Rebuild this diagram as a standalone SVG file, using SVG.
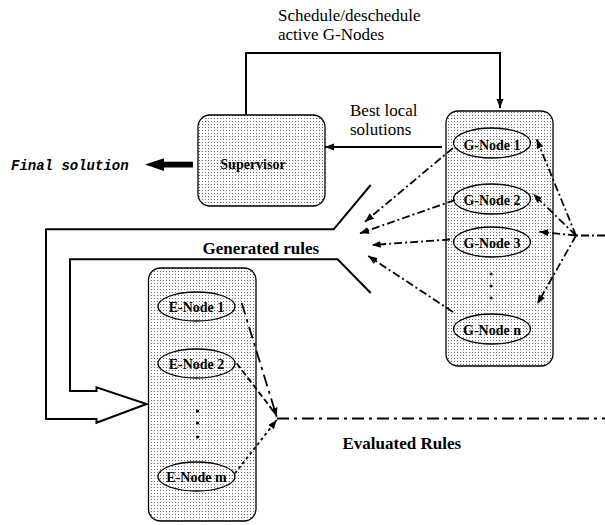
<svg xmlns="http://www.w3.org/2000/svg" width="605" height="525" viewBox="0 0 605 525">
<style>
.box{fill:url(#dots);stroke:#000;stroke-width:1.3}
.ell{fill:none;stroke:#000;stroke-width:1.3}
.lbl{font-family:"Liberation Serif","Times New Roman",serif;font-weight:bold;font-size:14px;fill:#000;text-anchor:middle}
.big{font-family:"Liberation Serif","Times New Roman",serif;font-size:17px;fill:#000}
.bigb{font-family:"Liberation Serif","Times New Roman",serif;font-size:17px;font-weight:bold;fill:#000}
.solid{fill:none;stroke:#000;stroke-width:2}
.dd{fill:none;stroke:#000;stroke-width:1.8;stroke-dasharray:8 3 2 3}
.dash{fill:none;stroke:#000;stroke-width:1.8;stroke-dasharray:6 3}
.dot{fill:none;stroke:#000;stroke-width:1.8;stroke-dasharray:3 3}
.long{fill:none;stroke:#000;stroke-width:1.8;stroke-dasharray:12 5 3 5}
</style>
<defs>
<pattern id="dots" width="3" height="3" patternUnits="userSpaceOnUse">
<rect width="3" height="3" fill="#fff"/>
<rect x="1" y="1" width="1" height="1" fill="#6a6a6a"/>
</pattern>
<marker id="ah" markerWidth="10" markerHeight="8" refX="9" refY="3.5" orient="auto" markerUnits="userSpaceOnUse">
<path d="M0,0 L9,3.5 L0,7 z" fill="#000"/>
</marker>
</defs>

<g id="supervisor">
<rect class="box" x="198" y="115" width="127" height="91" rx="12"/>
<text class="lbl" x="253" y="169">Supervisor</text>
</g>

<g id="gnodes">
<rect class="box" x="446" y="111" width="107" height="255" rx="12"/>
<g id="gnode1"><ellipse class="ell" cx="492" cy="143" rx="38.5" ry="15"/><text class="lbl" x="492" y="150">G-Node 1</text></g>
<g id="gnode2"><ellipse class="ell" cx="492" cy="199" rx="38.5" ry="15"/><text class="lbl" x="492" y="205">G-Node 2</text></g>
<g id="gnode3"><ellipse class="ell" cx="492" cy="242" rx="38.5" ry="15"/><text class="lbl" x="492" y="248">G-Node 3</text></g>
<g id="gdots"><circle cx="491" cy="274" r="1.6"/><circle cx="491" cy="286" r="1.6"/><circle cx="491" cy="298" r="1.6"/></g>
<g id="gnoden"><ellipse class="ell" cx="492" cy="329" rx="38.5" ry="15"/><text class="lbl" x="492" y="335">G-Node n</text></g>
</g>

<g id="enodes">
<rect class="box" x="148.5" y="268" width="107.5" height="253" rx="12"/>
<g id="enode1"><ellipse class="ell" cx="196.5" cy="306.5" rx="38.5" ry="14.5"/><text class="lbl" x="196.5" y="312">E-Node 1</text></g>
<g id="enode2"><ellipse class="ell" cx="196.5" cy="363.5" rx="38.5" ry="14.5"/><text class="lbl" x="196.5" y="369">E-Node 2</text></g>
<g id="edots"><circle cx="197.5" cy="411" r="1.6"/><circle cx="197.5" cy="423" r="1.6"/><circle cx="197.5" cy="437" r="1.6"/></g>
<g id="enodem"><ellipse class="ell" cx="196.5" cy="476.5" rx="38.5" ry="14.5"/><text class="lbl" x="196.5" y="482">E-Node m</text></g>
</g>

<g id="labels">
<text class="big" x="278" y="21">Schedule/deschedule</text>
<text class="big" x="278" y="40">active G-Nodes</text>
<text class="big" x="350" y="116">Best local</text>
<text class="big" x="350" y="135">solutions</text>
<text x="11" y="170" style="font-family:'Liberation Mono','Courier New',monospace;font-size:14px;font-weight:bold;font-style:italic">Final solution</text>
<text class="bigb" x="202.5" y="254">Generated rules</text>
<text class="bigb" x="342.5" y="449">Evaluated Rules</text>
</g>

<g id="connectors">
<path class="solid" d="M246,115 V53 H500 V108" marker-end="url(#ah)"/>
<path class="solid" d="M442,147 H325" marker-end="url(#ah)"/>
<g id="final-arrow">
<rect x="163" y="161.7" width="30" height="5.8" fill="#000"/>
<path d="M145,164.6 L164,158.3 L164,171 z" fill="#000"/>
</g>
<path class="solid" d="M370.7,185 L333.7,229.3 H46 V419 H96.5 V422.7 L146.6,404 L96.5,387.3 V391 H70 V259.3 H337.6 L370.7,293"/>
<path class="dd" d="M453,148 L365,221.7" marker-end="url(#ah)"/>
<path class="dd" d="M455,200 L360,233.3" marker-end="url(#ah)"/>
<path class="dd" d="M450,239.5 L371.7,245" marker-end="url(#ah)"/>
<path class="dd" d="M453,312 L368.3,256" marker-end="url(#ah)"/>
<path class="dd" d="M605,235.5 H576"/>
<path class="dd" d="M576,235.5 L536.7,139.3" marker-end="url(#ah)"/>
<path class="dd" d="M576,235.5 L533.3,194" marker-end="url(#ah)"/>
<path class="dd" d="M576,235.5 L539.3,231.7" marker-end="url(#ah)"/>
<path class="dd" d="M576,235.5 L537.3,304" marker-end="url(#ah)"/>
<path class="long" d="M241.7,303 L276.7,416.7" marker-end="url(#ah)"/>
<path class="dash" d="M236.7,363.3 L274,412"/>
<path class="dot" d="M235,473.3 L276.7,420" marker-end="url(#ah)"/>
<path class="long" d="M277,418.5 H605"/>
</g>
</svg>
